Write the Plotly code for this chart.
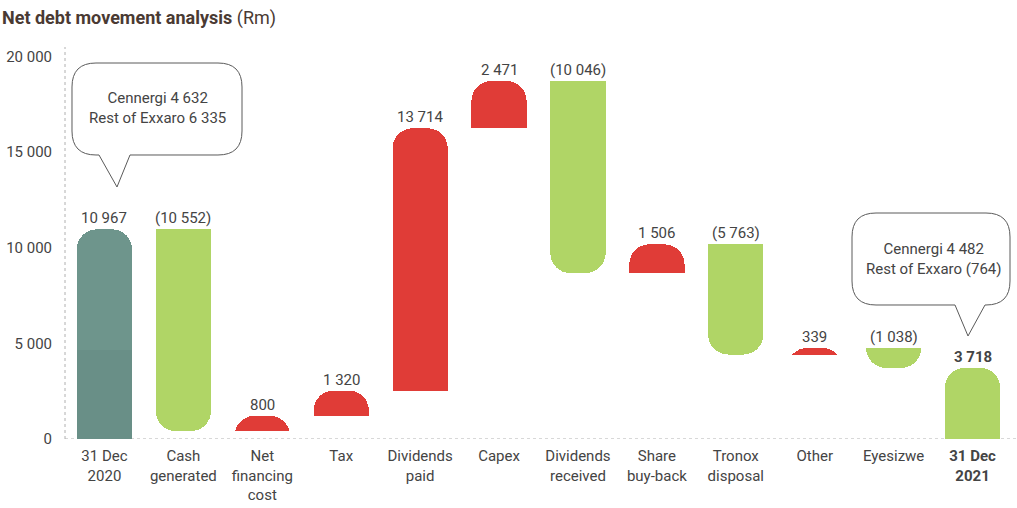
import plotly.graph_objects as go

# ---------------- data ----------------
categories = ["31 Dec<br>2020", "Cash<br>generated", "Net<br>financing<br>cost", "Tax",
              "Dividends<br>paid", "Capex", "Dividends<br>received", "Share<br>buy-back",
              "Tronox<br>disposal", "Other", "Eyesizwe", "<b>31 Dec<br>2021</b>"]
opening_cennergi = 4632
opening_rest = 6335
movement_cats = categories[1:11]
movements = [-10552, 800, 1320, 13714, 2471, -10046, 1506, -5763, 339, -1038]
closing_value = 3718
y_tick_vals = [0, 5000, 10000, 15000, 20000]
y_tick_text = ["0", "5 000", "10 000", "15 000", "20 000"]
callout1_lines = ["Cennergi 4 632", "Rest of Exxaro 6 335"]
callout2_lines = ["Cennergi 4 482", "Rest of Exxaro (764)"]

Y_MAX = 20500
TEAL_LO = "#698f87"
TEAL_HI = "#6e958c"
GREEN = "#b0d566"
RED = "#e03c37"
TXT = "#444444"
FONT = "Roboto"
FS = 15
RADIUS = 20
CLEAR = "rgba(0,0,0,0)"


def fmt(v):
    s = f"{abs(v):,}".replace(",", " ")
    return f"({s})" if v < 0 else s


# cumulative bases
opening = opening_cennergi + opening_rest
bases = []
level = opening
for m in movements:
    bases.append(level)
    level += m

inc_x = [c for c, m in zip(movement_cats, movements) if m > 0]
inc_y = [m for m in movements if m > 0]
inc_b = [b for b, m in zip(bases, movements) if m > 0]
dec_x = [c for c, m in zip(movement_cats, movements) if m < 0]
dec_y = [-m for m in movements if m < 0]
dec_b = [b for b, m in zip(bases, movements) if m < 0]

fig = go.Figure()
# --- upward-growing bars on y (stacked, rounded at top) ---
fig.add_trace(go.Bar(x=inc_x, y=inc_b, marker=dict(color=CLEAR, line=dict(width=0)),
                     hoverinfo="skip"))
fig.add_trace(go.Bar(x=[categories[0]], y=[opening_cennergi],
                     marker=dict(color=TEAL_LO, line=dict(width=0))))
fig.add_trace(go.Bar(x=[categories[0]], y=[opening_rest],
                     marker=dict(color=TEAL_HI, line=dict(width=0))))
fig.add_trace(go.Bar(x=inc_x, y=inc_y, marker=dict(color=RED, line=dict(width=0))))
fig.add_trace(go.Bar(x=[categories[-1]], y=[closing_value],
                     marker=dict(color=GREEN, line=dict(width=0))))
# --- downward bars on reversed overlay axis y2 (rounded at bottom) ---
fig.add_trace(go.Bar(x=dec_x, y=[Y_MAX - b for b in dec_b], yaxis="y2",
                     marker=dict(color=CLEAR, line=dict(width=0)), hoverinfo="skip"))
fig.add_trace(go.Bar(x=dec_x, y=dec_y, yaxis="y2",
                     marker=dict(color=GREEN, line=dict(width=0))))

# value labels
annotations = []
label_items = [(categories[0], opening, fmt(opening))]
for c, b, m in zip(movement_cats, bases, movements):
    label_items.append((c, max(b, b + m), fmt(m)))
label_items.append((categories[-1], closing_value, "<b>" + fmt(closing_value) + "</b>"))
for c, top, t in label_items:
    annotations.append(dict(x=c, y=top, text=t, showarrow=False, xref="x", yref="y",
                            yanchor="bottom", yshift=0,
                            font=dict(family=FONT, size=FS, color=TXT)))

# layout geometry (pixels)
W, H = 1017, 508
L, R, T, B = 65, 1012, 47, 439


def px(x, y):
    return (x - L) / (R - L), (B - y) / (B - T)


def bubble(x0, y0, x1, y1, pb0, pb1, tipx, tipy, r=24):
    def P(x, y):
        a, b = px(x, y)
        return f"{a:.5f},{b:.5f}"
    d = f"M {P(x0 + r, y0)} L {P(x1 - r, y0)} Q {P(x1, y0)} {P(x1, y0 + r)} "
    d += f"L {P(x1, y1 - r)} Q {P(x1, y1)} {P(x1 - r, y1)} "
    d += f"L {P(pb1, y1)} L {P(tipx, tipy)} L {P(pb0, y1)} "
    d += f"L {P(x0 + r, y1)} Q {P(x0, y1)} {P(x0, y1 - r)} "
    d += f"L {P(x0, y0 + r)} Q {P(x0, y0)} {P(x0 + r, y0)} Z"
    return dict(type="path", path=d, xref="paper", yref="paper",
                line=dict(color="#5a5a5a", width=1), fillcolor="white", layer="above")


shapes = [
    dict(type="line", xref="paper", yref="paper", x0=0, x1=0, y0=0, y1=1,
         line=dict(color="#b0b0b0", width=1, dash="dot"), layer="below"),
    dict(type="line", xref="paper", yref="y", x0=0, x1=(W - L) / (R - L), y0=0, y1=0,
         line=dict(color="#b0b0b0", width=1, dash="dot"), layer="below"),
    bubble(72, 63, 242, 155, 99, 130, 117, 187),
    bubble(852, 213, 1010, 305, 955, 985, 968, 336),
]

for lines, cx, cy in [(callout1_lines, 157, 108), (callout2_lines, 933, 259)]:
    ax, ay = px(cx, cy)
    annotations.append(dict(x=ax, y=ay, xref="paper", yref="paper", showarrow=False,
                            xanchor="center", yanchor="middle",
                            text="<br>".join(lines), align="center",
                            font=dict(family=FONT, size=FS, color=TXT)))

fig.update_layout(
    width=W, height=H,
    margin=dict(l=L, r=W - R, t=T, b=H - B),
    paper_bgcolor="white", plot_bgcolor="white",
    barmode="stack", bargap=0.3, barcornerradius=RADIUS, showlegend=False,
    title=dict(text="<b>Net debt movement analysis</b> (Rm)", x=2 / W, xref="container",
               xanchor="left", y=1 - 18 / H, yref="container", yanchor="middle",
               font=dict(family=FONT, size=18, color="#4a3a33")),
    xaxis=dict(type="category", categoryorder="array", categoryarray=categories,
               showgrid=False, showline=False, zeroline=False, ticks="",
               ticklabelstandoff=6,
               tickfont=dict(family=FONT, size=FS, color=TXT), fixedrange=True),
    yaxis=dict(range=[0, Y_MAX], tickvals=y_tick_vals, ticktext=y_tick_text,
               showgrid=False, showline=False, zeroline=False, ticks="",
               ticklabelstandoff=12,
               tickfont=dict(family=FONT, size=FS, color=TXT)),
    yaxis2=dict(range=[Y_MAX, 0], overlaying="y", visible=False, showgrid=False,
                zeroline=False),
    shapes=shapes, annotations=annotations,
)

fig.write_html("out.html", config={"displayModeBar": False},
               post_script="document.body.style.margin='0';")
